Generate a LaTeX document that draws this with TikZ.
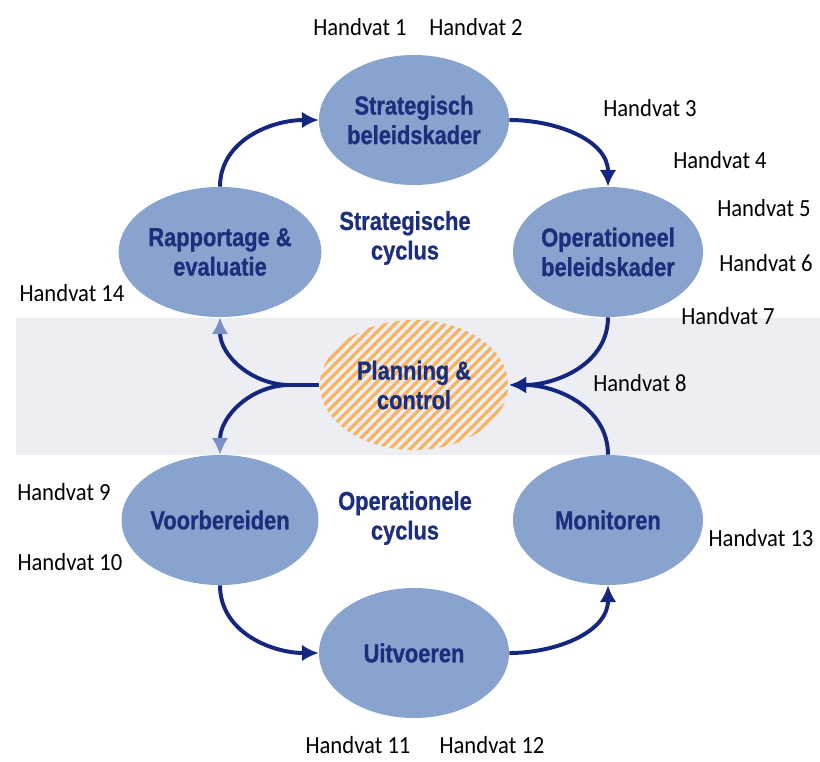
\documentclass[tikz,border=0pt]{standalone}
\usepackage{fontspec}
\usepackage{xcolor}
\usepackage{tikz}
\usetikzlibrary{arrows.meta,positioning,shapes.geometric}
\newfontfamily\ellfont[FakeStretch=0.84, BoldFeatures={FakeBold=0.8}]{Liberation Sans}
\newfontfamily\hvfont[FakeStretch=0.92]{Carlito}
\definecolor{ellblue}{HTML}{88A4CE}
\definecolor{navytext}{HTML}{1C2E7C}
\definecolor{navyline}{HTML}{14267F}
\definecolor{lighthead}{HTML}{7A90C6}
\definecolor{bandgray}{HTML}{ECEEF3}
\definecolor{hatchorange}{HTML}{F7B463}

\begin{document}
\begin{tikzpicture}[
    x=0.025cm, y=0.025cm,
    phase/.style={ellipse, fill=ellblue, inner sep=0pt, align=center,
                  minimum width=4.75cm, minimum height=3.25cm,
                  text=navytext, font=\ellfont\bfseries\fontsize{18.5pt}{21pt}\selectfont},
    pc/.style={phase, fill=none},
    cyc/.style={align=center, text=navytext,
                font=\ellfont\bfseries\fontsize{18.5pt}{21pt}\selectfont},
    hv/.style={font=\hvfont\fontsize{17.5pt}{21pt}\selectfont},
    hatch/.style={hatchorange, line width=2.4pt},
    arrow/.style={-{Latex[length=12pt,width=12pt]}, navyline, line width=2.8pt},
    larrow/.style={-{Latex[length=12pt,width=12pt,color=lighthead]}, navyline, line width=2.8pt}
  ]
    \useasboundingbox (0,0) rectangle (820,-761);
    \fill[bandgray] (16,-318) rectangle (820,-455);

    \begin{scope}[shift={(414,-385)}]
      \clip (0,0) ellipse (94 and 65);
      \foreach \i in {-240,-230,...,240}
        \draw[hatch] ({\i-80},-80) -- ({\i+80},80);
    \end{scope}

    \node[phase] (strat) at (414,-120) {Strategisch\\beleidskader};
    \node[phase] (oper)  at (608,-252) {Operationeel\\beleidskader};
    \node[phase] (rapp)  at (220,-252) {Rapportage \&\\evaluatie};
    \node[pc]    (plan)  at (414,-385) {Planning \&\\control};
    \node[phase] (voorb) at (220,-520) {Voorbereiden};
    \node[phase] (monit) at (608,-520) {Monitoren};
    \node[phase] (uitv)  at (414,-653) {Uitvoeren};

    \node[cyc] (strcyc) at (405,-238) {Strategische\\cyclus};
    \node[cyc] (opcyc)  at (405,-518) {Operationele\\cyclus};

    \coordinate (split) at (290,-385);

    \draw[arrow] (rapp.north) to[out=90,in=180] (strat.west);
    \draw[arrow] (strat.east) to[out=0,in=90] (oper.north);
    \draw[arrow] (oper.south) to[out=-90,in=0] (plan.east);
    \draw[arrow] (monit.north) to[out=90,in=0] (plan.east);
    \draw[larrow] (plan.west) -- (split) to[out=180,in=-90] (rapp.south);
    \draw[larrow] (plan.west) -- (split) to[out=180,in=90] (voorb.north);
    \draw[arrow] (voorb.south) to[out=-90,in=180] (uitv.west);
    \draw[arrow] (uitv.east) to[out=0,in=-90] (monit.south);

    \node[hv] (h1)  at (360,-27)  {Handvat 1};
    \node[hv] (h2)  at (476,-27)  {Handvat 2};
    \node[hv] (h3)  at (650,-108) {Handvat 3};
    \node[hv] (h4)  at (720,-160) {Handvat 4};
    \node[hv] (h5)  at (764,-208) {Handvat 5};
    \node[hv] (h6)  at (766,-263) {Handvat 6};
    \node[hv] (h7)  at (728,-316) {Handvat 7};
    \node[hv] (h8)  at (640,-383) {Handvat 8};
    \node[hv] (h9)  at (64,-492)  {Handvat 9};
    \node[hv] (h10) at (70,-562)  {Handvat 10};
    \node[hv] (h11) at (358,-745) {Handvat 11};
    \node[hv] (h12) at (492,-745) {Handvat 12};
    \node[hv] (h13) at (761,-538) {Handvat 13};
    \node[hv] (h14) at (72,-293)  {Handvat 14};
\end{tikzpicture}
\end{document}
